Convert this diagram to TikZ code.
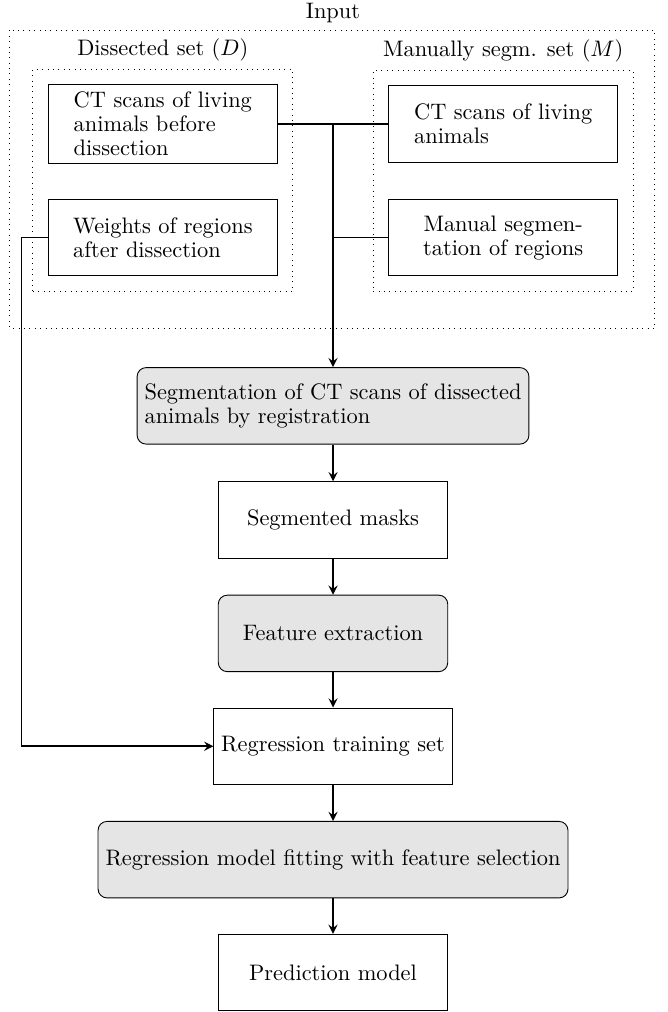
\documentclass[tikz,border=0pt]{standalone}
\usepackage{amsmath, amssymb}
\usetikzlibrary{fit, calc}
\tikzstyle{box}=[draw, minimum width=3.6cm, minimum height=1.2cm, align=left, font=\fontsize{10}{10.7}\selectfont]
\tikzstyle{proc}=[box, rounded corners=4pt, fill=gray!20]
\tikzstyle{grp}=[draw, dotted, inner sep=6.6pt]
\tikzstyle{conn}=[thick]

\begin{document}
\begin{tikzpicture}[>=stealth]
    \useasboundingbox (-5.225,6.368) rectangle (5.24,-9.51);
    \node[box] (ctd) at (-2.67,4.42) {CT scans of living\\animals before\\dissection};
    \node[box] (wts) at (-2.67,2.64) {Weights of regions\\after dissection};
    \node[box] (ctm) at (2.67,4.42) {CT scans of living\\animals};
    \node[box, align=center] (man) at (2.67,2.64) {Manual segmen-\\tation of regions};
    \node[grp, fit=(ctd)(wts), label={above:Dissected set ($D$)}] (dset) {};
    \node[grp, fit=(ctm)(man), label={above:Manually segm. set ($M$)}] (mset) {};
    \draw[dotted] (-5.07,5.89) rectangle (5.05,1.22);
    \node (input) at (0,6.17) {Input};
    \node[proc] (seg) at (0,0) {Segmentation of CT scans of dissected\\animals by registration};
    \node[box, align=center] (msk) at (0,-1.79) {Segmented masks};
    \node[proc, align=center] (fex) at (0,-3.57) {Feature extraction};
    \node[box, align=center] (rts) at (0,-5.34) {Regression training set};
    \node[proc, align=center] (rmf) at (0,-7.12) {Regression model fitting with feature selection};
    \node[box, align=center] (pred) at (0,-8.89) {Prediction model};
    \draw[conn] (ctd.east) -- (ctm.west);
    \draw[conn] (man.west) -- (man.west -| seg.north);
    \draw[conn, ->] (ctd.east -| seg.north) -- (seg.north);
    \draw[conn, ->] (wts.west) -- ++(-0.41,0) |- (rts.west);
    \draw[conn, ->] (seg) -- (msk);
    \draw[conn, ->] (msk) -- (fex);
    \draw[conn, ->] (fex) -- (rts);
    \draw[conn, ->] (rts) -- (rmf);
    \draw[conn, ->] (rmf) -- (pred);
\end{tikzpicture}
\end{document}
